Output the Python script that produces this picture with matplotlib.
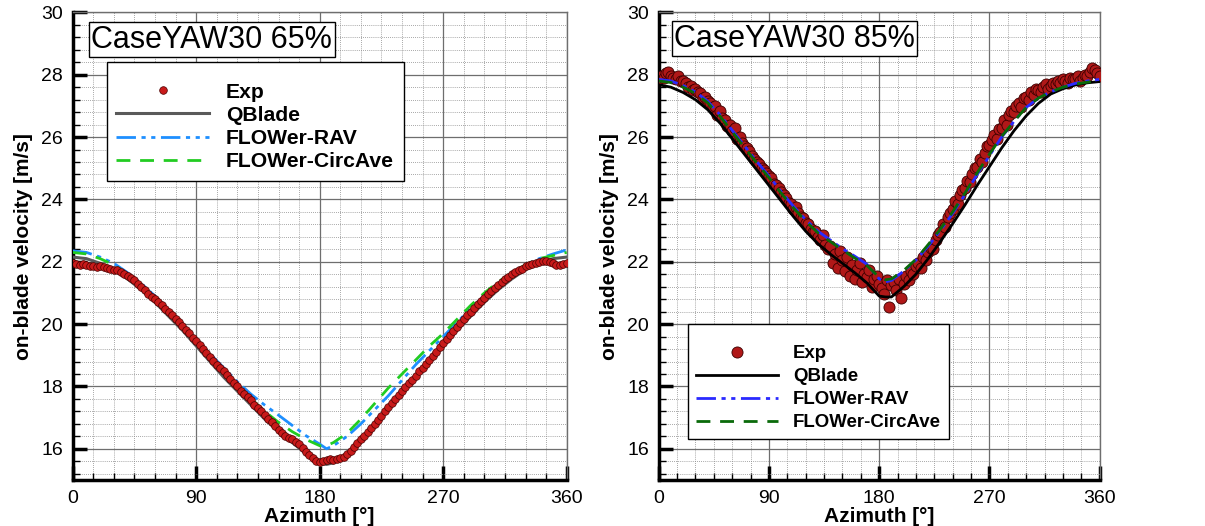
import matplotlib
matplotlib.use("Agg")
import matplotlib.pyplot as plt
from matplotlib.ticker import MultipleLocator
import numpy as np

plt.rcParams['font.family'] = ['Liberation Sans', 'DejaVu Sans']

# ---------------- data: CaseYAW30 65% ----------------
az_exp65 = np.arange(0, 360.1, 2.5)
exp65 = [21.95, 21.93, 21.90, 21.92, 21.88, 21.85, 21.87, 21.84, 21.85, 21.82,
         21.80, 21.78, 21.75, 21.72, 21.66, 21.62, 21.55, 21.47, 21.40, 21.30,
         21.20, 21.08, 20.98, 20.88, 20.80, 20.70, 20.60, 20.50, 20.40, 20.28,
         20.15, 20.06, 19.95, 19.82, 19.70, 19.57, 19.45, 19.33, 19.20, 19.08,
         18.95, 18.83, 18.70, 18.60, 18.50, 18.37, 18.25, 18.12, 18.00, 17.87,
         17.75, 17.65, 17.55, 17.42, 17.30, 17.20, 17.10, 16.97, 16.85, 16.72,
         16.60, 16.50, 16.42, 16.36, 16.30, 16.22, 16.15, 16.02, 15.90, 15.80,
         15.70, 15.62, 15.58, 15.62, 15.63, 15.66, 15.65, 15.67, 15.70, 15.74,
         15.82, 15.93, 16.05, 16.18, 16.30, 16.42, 16.55, 16.68, 16.80, 16.92,
         17.05, 17.20, 17.35, 17.48, 17.60, 17.72, 17.85, 17.98, 18.10, 18.22,
         18.35, 18.48, 18.60, 18.72, 18.85, 18.98, 19.10, 19.25, 19.40, 19.52,
         19.65, 19.78, 19.90, 20.02, 20.15, 20.28, 20.40, 20.52, 20.65, 20.75,
         20.85, 20.95, 21.05, 21.15, 21.25, 21.35, 21.45, 21.52, 21.60, 21.66,
         21.72, 21.78, 21.85, 21.89, 21.93, 21.97, 22.00, 22.02, 22.02, 21.98,
         21.95, 21.90, 21.88, 21.92, 21.97]

az_line = [0, 10, 20, 30, 40, 50, 60, 70, 80, 90, 100, 110, 120, 130, 140, 150,
           160, 170, 180, 185, 190, 200, 210, 220, 230, 240, 250, 260, 270, 280,
           290, 300, 310, 320, 330, 340, 350, 360]
qblade65 = [22.15, 22.10, 21.95, 21.75, 21.45, 21.10, 20.70, 20.25, 19.80, 19.30,
            18.80, 18.30, 17.85, 17.40, 16.95, 16.55, 16.20, 15.85, 15.55, 15.50,
            15.55, 15.80, 16.25, 16.75, 17.30, 17.80, 18.30, 18.80, 19.30, 19.80,
            20.25, 20.70, 21.10, 21.45, 21.75, 21.95, 22.10, 22.15]
rav65 = [22.35, 22.30, 22.15, 21.95, 21.65, 21.30, 20.90, 20.45, 19.95, 19.50,
         19.05, 18.60, 18.15, 17.75, 17.40, 17.08, 16.75, 16.42, 16.15, 16.00,
         16.10, 16.40, 16.80, 17.25, 17.70, 18.20, 18.70, 19.15, 19.60, 20.05,
         20.50, 20.90, 21.30, 21.60, 21.90, 22.10, 22.25, 22.38]
circ65 = [22.30, 22.25, 22.10, 21.90, 21.60, 21.25, 20.85, 20.40, 19.90, 19.45,
          19.00, 18.50, 18.05, 17.60, 17.20, 16.85, 16.55, 16.30, 16.10, 16.10,
          16.20, 16.50, 16.95, 17.45, 17.95, 18.40, 18.85, 19.30, 19.70, 20.15,
          20.60, 21.00, 21.35, 21.65, 21.90, 22.10, 22.20, 22.30]

# ---------------- data: CaseYAW30 85% ----------------
az_exp85 = np.arange(0, 361, 2)
exp85 = [27.85, 27.95, 27.90, 28.05, 28.10, 27.95, 27.90, 27.85, 27.95, 27.80,
         27.80, 27.75, 27.60, 27.65, 27.50, 27.55, 27.45, 27.40, 27.25, 27.30,
         27.15, 27.10, 26.95, 27.00, 26.70, 26.85, 26.60, 26.55, 26.35, 26.40,
         26.20, 26.30, 25.95, 26.00, 25.80, 25.70, 25.65, 25.55, 25.40, 25.30,
         25.20, 25.15, 25.00, 24.95, 24.85, 24.75, 24.70, 24.50, 24.45, 24.35,
         24.25, 24.15, 24.05, 23.90, 23.85, 23.70, 23.75, 23.55, 23.45, 23.40,
         23.25, 23.20, 23.05, 22.95, 23.00, 22.80, 22.70, 22.85, 22.55, 22.40,
         22.50, 21.95, 22.25, 21.80, 22.35, 22.05, 21.70, 22.15, 21.55, 21.90,
         21.45, 21.75, 21.95, 21.35, 21.60, 21.50, 21.75, 21.20, 21.45, 21.55,
         21.30, 21.15, 20.95, 21.40, 20.55, 21.25, 21.35, 21.10, 21.45, 20.85,
         21.30, 21.55, 21.40, 21.70, 21.60, 21.85, 21.95, 21.80, 22.15, 22.05,
         22.30, 22.45, 22.40, 22.70, 22.85, 22.95, 23.20, 23.10, 23.45, 23.55,
         23.70, 23.95, 23.85, 24.15, 24.30, 24.35, 24.60, 24.55, 24.80, 25.00,
         25.05, 25.30, 25.20, 25.50, 25.70, 25.75, 25.90, 26.05, 25.95, 26.25,
         26.30, 26.55, 26.40, 26.70, 26.85, 26.80, 27.00, 27.10, 26.95, 27.25,
         27.30, 27.20, 27.45, 27.35, 27.55, 27.50, 27.45, 27.60, 27.70, 27.55,
         27.65, 27.75, 27.70, 27.80, 27.75, 27.85, 27.80, 27.75, 27.90, 27.85,
         27.85, 27.95, 27.80, 27.90, 28.00, 27.95, 28.10, 28.20, 28.15, 28.05,
         27.95]
qblade85 = [27.68, 27.60, 27.43, 27.20, 26.88, 26.45, 25.95, 25.45, 24.95, 24.45,
            23.95, 23.45, 22.98, 22.58, 22.25, 21.95, 21.65, 21.32, 20.90, 20.87,
            20.87, 21.20, 21.60, 22.10, 22.65, 23.22, 23.82, 24.45, 25.05, 25.65,
            26.20, 26.68, 27.08, 27.38, 27.55, 27.67, 27.74, 27.78]
rav85 = [27.85, 27.80, 27.65, 27.45, 27.15, 26.72, 26.22, 25.72, 25.22, 24.75,
         24.25, 23.78, 23.35, 22.98, 22.70, 22.42, 22.18, 21.92, 21.45, 21.35,
         21.40, 21.70, 22.05, 22.50, 23.00, 23.55, 24.15, 24.80, 25.40, 26.00,
         26.50, 26.95, 27.25, 27.45, 27.60, 27.72, 27.80, 27.85]
circ85 = [27.80, 27.75, 27.60, 27.40, 27.10, 26.67, 26.17, 25.67, 25.17, 24.70,
          24.20, 23.73, 23.30, 22.93, 22.65, 22.38, 22.12, 21.88, 21.50, 21.42,
          21.45, 21.72, 22.08, 22.55, 23.05, 23.60, 24.20, 24.85, 25.45, 26.02,
          26.50, 26.95, 27.25, 27.45, 27.60, 27.70, 27.76, 27.80]

fig = plt.figure(figsize=(12.05, 5.26), dpi=100)
ax1 = fig.add_axes([0.0603, 0.0875, 0.410, 0.889])
ax2 = fig.add_axes([0.5466, 0.0875, 0.366, 0.889])


def style_axes(ax):
    ax.set_xlim(0, 360)
    ax.set_ylim(15, 30)
    ax.xaxis.set_major_locator(MultipleLocator(90))
    ax.xaxis.set_minor_locator(MultipleLocator(15))
    ax.yaxis.set_major_locator(MultipleLocator(2))
    ax.yaxis.set_minor_locator(MultipleLocator(0.4))
    ax.grid(True, which='major', color='#6e6e6e', linewidth=0.9, linestyle='-')
    ax.grid(True, which='minor', color='#8a8a8a', linewidth=0.6, linestyle=(0, (1, 1.5)))
    ax.set_axisbelow(True)
    ax.tick_params(which='major', direction='in', length=10, width=2.5,
                   labelsize=14, top=False, right=False, pad=7)
    ax.tick_params(which='minor', direction='in', length=5, width=1,
                   top=False, right=False)
    for side in ['left', 'bottom']:
        ax.spines[side].set_linewidth(2.5)
        ax.spines[side].set_color('black')
    for side in ['top', 'right']:
        ax.spines[side].set_linewidth(1.0)
        ax.spines[side].set_color('#6e6e6e')
    ax.set_xlabel('Azimuth [°]', fontsize=15, fontweight='bold', labelpad=0)
    ax.set_ylabel('on-blade velocity [m/s]', fontsize=15, fontweight='bold', labelpad=6)


def add_legend(ax, handles, labels, anchor, size, spacing):
    leg = ax.legend(handles, labels, loc='upper left', bbox_to_anchor=anchor,
                    borderaxespad=0, fancybox=False, framealpha=1, edgecolor='black',
                    handlelength=4.4, handletextpad=0.8, borderpad=0.45,
                    labelspacing=spacing, numpoints=1, title=' ', title_fontsize=5,
                    prop={'weight': 'bold', 'size': size})
    leg.get_frame().set_linewidth(1.0)
    return leg


title_box = dict(boxstyle='square,pad=0.08', fc='white', ec='black', lw=1)

# left panel
style_axes(ax1)
ax1.plot(az_line, qblade65, color='#5a5a5a', lw=2.2, label='QBlade', zorder=3)
ax1.plot(az_line, rav65, color='#1e8fff', lw=2, linestyle=(0, (7, 2, 1.5, 2, 1.5, 2)),
         label='FLOWer-RAV', zorder=3)
ax1.plot(az_line, circ65, color='#22cc22', lw=2, linestyle=(0, (5, 3.5)),
         label='FLOWer-CircAve', zorder=3)
ax1.plot(az_exp65, exp65, linestyle='none', marker='o', ms=5.5, mfc='#c81a1a',
         mec='#4a0000', mew=0.5, label='Exp', zorder=4)
h, l = ax1.get_legend_handles_labels()
order = [l.index(k) for k in ['Exp', 'QBlade', 'FLOWer-RAV', 'FLOWer-CircAve']]
add_legend(ax1, [h[i] for i in order], [l[i] for i in order],
           (0.069, 0.894), 15.2, 0.2)
ax1.text(0.038, 0.974, 'CaseYAW30 65%', transform=ax1.transAxes, fontsize=22,
         va='top', ha='left', zorder=10, bbox=title_box)

# right panel
style_axes(ax2)
ax2.plot(az_exp85, exp85, linestyle='none', marker='o', ms=8, mfc='#b01818',
         mec='#3a0000', mew=0.6, label='Exp', zorder=3)
ax2.plot(az_line, qblade85, color='black', lw=2, label='QBlade', zorder=4)
ax2.plot(az_line, rav85, color='#2a2aff', lw=2, linestyle=(0, (7, 2, 1.5, 2, 1.5, 2)),
         label='FLOWer-RAV', zorder=4)
ax2.plot(az_line, circ85, color='#0a6a0a', lw=2, linestyle=(0, (5, 3.5)),
         label='FLOWer-CircAve', zorder=4)
h2, l2 = ax2.get_legend_handles_labels()
add_legend(ax2, h2, l2, (0.066, 0.334), 13.4, 0.32)
ax2.text(0.035, 0.976, 'CaseYAW30 85%', transform=ax2.transAxes, fontsize=22,
         va='top', ha='left', zorder=10, bbox=title_box)

fig.savefig('out.png', dpi=100)
